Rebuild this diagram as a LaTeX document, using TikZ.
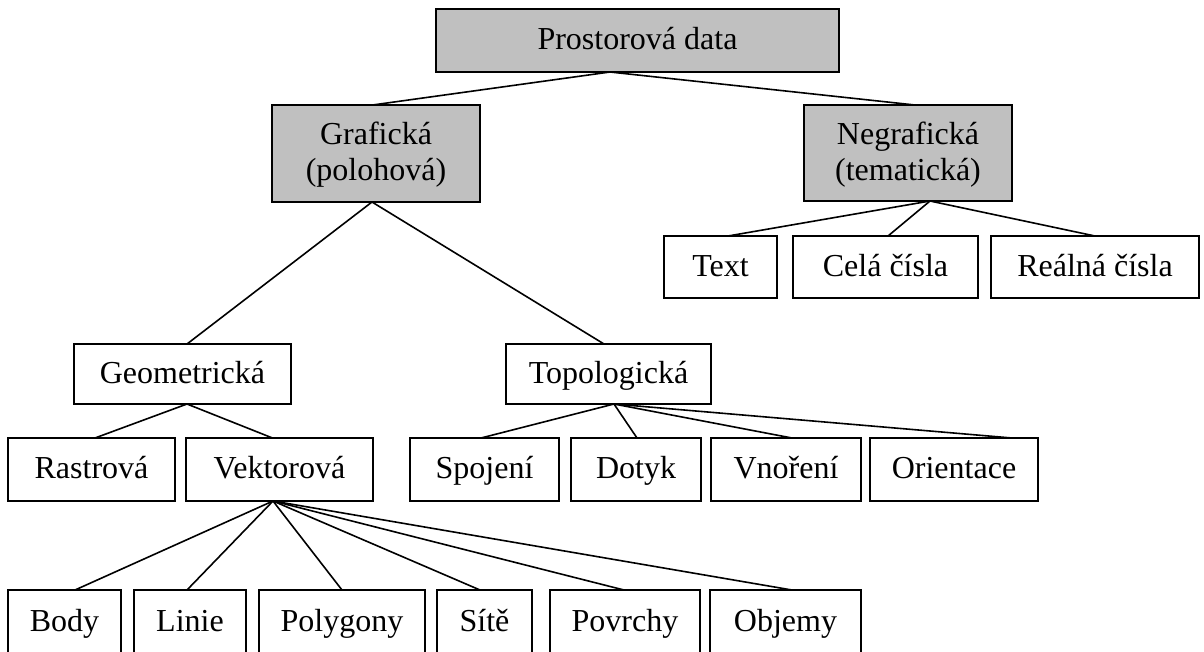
\documentclass[tikz,border=0pt]{standalone}
\usepackage{fontspec}
\setmainfont{Liberation Serif}
\definecolor{boxgray}{RGB}{192,192,192}
\begin{document}
\begin{tikzpicture}[x=1pt,y=-1pt,
  box/.style={draw=black,line width=1.6pt,rectangle,inner sep=0pt,outer sep=0pt,
    align=center,font=\fontsize{32}{36}\selectfont,text height=25pt,text depth=7pt},
  head/.style={box,fill=boxgray},
  twoline/.style={text height=61pt},
  link/.style={line width=1.6pt,line cap=round}]
\clip (0,0) rectangle (1204,651);
\fill[white] (0,0) rectangle (1204,651);

% level 0
\node[head,minimum width=403pt,minimum height=63pt] (prost) at (637.5,40.5) {Prostorová data};
% level 1
\node[head,twoline,minimum width=208pt,minimum height=97pt] (graf) at (376,153.5) {Grafická\\(polohová)};
\node[head,twoline,minimum width=208pt,minimum height=96pt] (negr) at (908,153) {Negrafická\\(tematická)};
% non-graphic kinds
\node[box,minimum width=113pt,minimum height=62pt] (text) at (720.5,267) {Text};
\node[box,minimum width=185pt,minimum height=62pt] (cela) at (885.5,267) {Celá čísla};
\node[box,minimum width=208pt,minimum height=62pt] (real) at (1095,267) {Reálná čísla};
% level 2
\node[box,minimum width=217pt,minimum height=60pt] (geom) at (182.5,374) {Geometrická};
\node[box,minimum width=205pt,minimum height=60pt] (topo) at (608.5,374) {Topologická};
% level 3
\node[box,minimum width=167pt,minimum height=63pt] (rast) at (91.5,469.5) {Rastrová};
\node[box,minimum width=187pt,minimum height=63pt] (vekt) at (279.5,469.5) {Vektorová};
\node[box,minimum width=149pt,minimum height=63pt] (spoj) at (484.5,469.5) {Spojení};
\node[box,minimum width=130pt,minimum height=63pt] (dotyk) at (636,469.5) {Dotyk};
\node[box,minimum width=150pt,minimum height=63pt] (vnor) at (786,469.5) {Vnoření};
\node[box,minimum width=168pt,minimum height=63pt] (orient) at (954,469.5) {Orientace};
% level 4
\node[box,minimum width=113pt,minimum height=64pt] (body) at (64.5,622) {Body};
\node[box,minimum width=112pt,minimum height=64pt] (linie) at (190,622) {Linie};
\node[box,minimum width=166pt,minimum height=64pt] (polyg) at (342,622) {Polygony};
\node[box,minimum width=95pt,minimum height=64pt] (site) at (484.5,622) {Sítě};
\node[box,minimum width=150pt,minimum height=64pt] (povr) at (625,622) {Povrchy};
\node[box,minimum width=151pt,minimum height=64pt] (objem) at (785.5,622) {Objemy};

% connectors
\coordinate (jP) at ([xshift=-27.5pt]prost.south);
\draw[link] (jP) -- ([xshift=-3.5pt]graf.north);
\draw[link] (jP) -- ([xshift=7pt]negr.north);

\coordinate (jN) at ([xshift=22pt]negr.south);
\draw[link] (jN) -- ([xshift=7.5pt]text.north);
\draw[link] (jN) -- ([xshift=2.5pt]cela.north);
\draw[link] (jN) -- (real.north);

\coordinate (jG) at ([xshift=-4pt]graf.south);
\draw[link] (jG) -- ([xshift=4.5pt]geom.north);
\draw[link] (jG) -- ([xshift=-4.5pt]topo.north);

\coordinate (jGe) at ([xshift=4.5pt]geom.south);
\draw[link] (jGe) -- ([xshift=3.5pt]rast.north);
\draw[link] (jGe) -- ([xshift=-7pt]vekt.north);

\coordinate (jT) at ([xshift=5.5pt]topo.south);
\draw[link] (jT) -- ([xshift=-3.5pt]spoj.north);
\draw[link] (jT) -- ([xshift=1pt]dotyk.north);
\draw[link] (jT) -- ([xshift=6pt]vnor.north);
\draw[link] (jT) -- ([xshift=58pt]orient.north);

\coordinate (jV) at ([xshift=-6.5pt]vekt.south);
\draw[link] (jV) -- ([xshift=10.5pt]body.north);
\draw[link] (jV) -- ([xshift=-3pt]linie.north);
\draw[link] (jV) -- (polyg.north);
\draw[link] (jV) -- ([xshift=-4.5pt]site.north);
\draw[link] (jV) -- ([xshift=-1pt]povr.north);
\draw[link] (jV) -- ([xshift=6.5pt]objem.north);
\end{tikzpicture}
\end{document}
